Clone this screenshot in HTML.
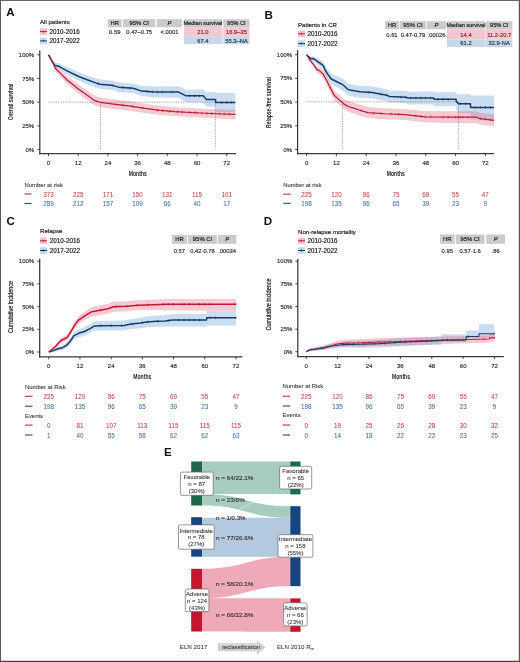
<!DOCTYPE html>
<html><head><meta charset="utf-8"><style>
html,body{margin:0;padding:0;background:#fff;}
svg{display:block;font-family:"Liberation Sans", sans-serif;filter:blur(0.35px);}
</style></head><body>
<svg width="520" height="662" viewBox="0 0 520 662">
<rect width="520" height="662" fill="#fff"/>
<text x="6.30" y="15.79" font-size="11.6" text-anchor="start" fill="#111" font-weight="bold">A</text>
<text x="40.00" y="23.90" font-size="6.1" text-anchor="start" fill="#222" stroke="#222" stroke-width="0.18">All patients</text>
<rect x="40.00" y="28.30" width="7.00" height="6.60" fill="#f6c3cc"/>
<line x1="40.00" y1="31.60" x2="47.00" y2="31.60" stroke="#b81c3a" stroke-width="1.0"/>
<line x1="43.50" y1="30.40" x2="43.50" y2="32.80" stroke="#b81c3a" stroke-width="0.7"/>
<text x="49.60" y="33.77" font-size="6.3" text-anchor="start" fill="#222" stroke="#222" stroke-width="0.18">2010-2016</text>
<rect x="40.00" y="37.60" width="7.00" height="6.60" fill="#c3d9ee"/>
<line x1="40.00" y1="40.90" x2="47.00" y2="40.90" stroke="#173f6b" stroke-width="1.0"/>
<line x1="43.50" y1="39.70" x2="43.50" y2="42.10" stroke="#173f6b" stroke-width="0.7"/>
<text x="49.60" y="43.07" font-size="6.3" text-anchor="start" fill="#222" stroke="#222" stroke-width="0.18">2017-2022</text>
<rect x="107.80" y="19.20" width="13.90" height="8.00" fill="#cbcbcb"/>
<text x="114.75" y="25.23" font-size="5.9" text-anchor="middle" fill="#222" stroke="#222" stroke-width="0.18">HR</text>
<rect x="122.90" y="19.20" width="32.60" height="8.00" fill="#cbcbcb"/>
<text x="139.20" y="25.23" font-size="5.9" text-anchor="middle" fill="#222" stroke="#222" stroke-width="0.18">95% CI</text>
<rect x="157.00" y="19.20" width="25.00" height="8.00" fill="#cbcbcb"/>
<text x="169.50" y="25.23" font-size="5.9" text-anchor="middle" fill="#222" stroke="#222" stroke-width="0.18" font-style="italic">P</text>
<text x="114.75" y="34.20" font-size="5.8" text-anchor="middle" fill="#333" stroke="#333" stroke-width="0.18">0.59</text>
<text x="139.20" y="34.20" font-size="5.8" text-anchor="middle" fill="#333" stroke="#333" stroke-width="0.18">0.47–0.75</text>
<text x="169.50" y="34.20" font-size="5.8" text-anchor="middle" fill="#333" stroke="#333" stroke-width="0.18">&lt;.0001</text>
<rect x="184.00" y="19.20" width="37.80" height="8.00" fill="#cbcbcb"/>
<rect x="223.30" y="19.20" width="26.20" height="8.00" fill="#cbcbcb"/>
<text x="202.90" y="25.13" font-size="5.6" text-anchor="middle" fill="#222" stroke="#222" stroke-width="0.18">Median survival</text>
<text x="236.50" y="25.13" font-size="5.6" text-anchor="middle" fill="#222" stroke="#222" stroke-width="0.18">95% CI</text>
<rect x="184.00" y="27.20" width="65.50" height="9.00" fill="#f3c9d0"/>
<rect x="184.00" y="36.20" width="65.50" height="8.00" fill="#c9d7e6"/>
<rect x="221.80" y="26.70" width="1.70" height="17.50" fill="#ffffff" opacity="0.5"/>
<text x="202.90" y="34.30" font-size="5.8" text-anchor="middle" fill="#9c2236" stroke="#9c2236" stroke-width="0.18">21.0</text>
<text x="236.50" y="34.30" font-size="5.8" text-anchor="middle" fill="#9c2236" stroke="#9c2236" stroke-width="0.18">16.9–35</text>
<text x="202.90" y="42.60" font-size="5.8" text-anchor="middle" fill="#233e60" stroke="#233e60" stroke-width="0.18">67.4</text>
<text x="236.50" y="42.60" font-size="5.8" text-anchor="middle" fill="#233e60" stroke="#233e60" stroke-width="0.18">55.3–NA</text>
<polygon points="48.50,54.30 52.61,60.10 55.01,63.11 58.40,63.08 67.06,67.02 78.69,72.21 87.85,75.52 95.77,78.26 99.98,79.59 111.61,80.44 118.54,82.33 133.39,83.46 141.56,86.11 154.93,86.56 178.69,86.26 186.11,89.65 203.19,89.35 206.41,92.45 215.56,91.95 215.69,92.98 235.36,92.98 235.36,111.98 215.69,111.98 215.56,106.95 206.41,106.45 203.19,102.35 186.11,102.05 178.69,97.86 154.93,97.56 141.56,96.11 133.39,93.06 118.54,91.93 111.61,89.84 99.98,88.79 95.77,87.46 87.85,84.52 78.69,80.81 67.06,74.62 58.40,69.08 55.01,68.11 52.61,64.10 48.50,55.30" fill="#4f8fcf" opacity="0.3"/>
<polygon points="48.50,54.30 52.61,60.10 55.50,65.45 61.30,70.64 67.06,76.02 72.80,80.27 78.69,84.71 84.39,88.59 90.08,92.47 94.78,95.78 100.47,97.39 111.61,98.91 130.18,101.29 145.03,103.86 160.12,105.95 174.97,107.18 199.97,108.51 216.80,109.27 235.36,109.93 235.36,119.43 216.80,118.57 199.97,117.51 174.97,116.18 160.12,114.95 145.03,113.06 130.18,110.89 111.61,108.71 100.47,107.19 94.78,105.58 90.08,102.07 84.39,97.99 78.69,93.71 72.80,88.87 67.06,84.02 61.30,77.64 55.50,71.45 52.61,64.10 48.50,55.30" fill="#e0506a" opacity="0.3"/>
<path d="M48.5 102.2 H215.3 M100.5 102.2 V150 M215.3 102.2 V148.5" stroke="#666" stroke-width="0.6" stroke-dasharray="1.2 1.2" fill="none"/>
<polyline points="48.50,54.80 52.61,62.10 55.01,65.61 58.40,66.08 67.06,70.82 78.69,76.51 87.85,80.02 95.77,82.86 99.98,84.19 111.61,85.14 118.54,87.13 133.39,88.26 141.56,91.11 154.93,92.06 178.69,92.06 186.11,95.85 203.19,95.85 206.41,99.45 215.56,99.45 215.69,102.48 235.36,102.48" fill="none" stroke="#173f6b" stroke-width="1.5" stroke-linejoin="round"/>
<line x1="98.00" y1="82.26" x2="98.00" y2="84.86" stroke="#173f6b" stroke-width="0.7"/>
<line x1="112.85" y1="84.19" x2="112.85" y2="86.79" stroke="#173f6b" stroke-width="0.7"/>
<line x1="122.75" y1="86.15" x2="122.75" y2="88.75" stroke="#173f6b" stroke-width="0.7"/>
<line x1="130.18" y1="86.72" x2="130.18" y2="89.32" stroke="#173f6b" stroke-width="0.7"/>
<line x1="147.50" y1="90.23" x2="147.50" y2="92.83" stroke="#173f6b" stroke-width="0.7"/>
<line x1="152.45" y1="90.58" x2="152.45" y2="93.18" stroke="#173f6b" stroke-width="0.7"/>
<line x1="157.40" y1="90.76" x2="157.40" y2="93.36" stroke="#173f6b" stroke-width="0.7"/>
<line x1="162.35" y1="90.76" x2="162.35" y2="93.36" stroke="#173f6b" stroke-width="0.7"/>
<line x1="172.25" y1="90.76" x2="172.25" y2="93.36" stroke="#173f6b" stroke-width="0.7"/>
<line x1="189.58" y1="94.55" x2="189.58" y2="97.15" stroke="#173f6b" stroke-width="0.7"/>
<line x1="194.53" y1="94.55" x2="194.53" y2="97.15" stroke="#173f6b" stroke-width="0.7"/>
<line x1="199.47" y1="94.55" x2="199.47" y2="97.15" stroke="#173f6b" stroke-width="0.7"/>
<line x1="221.75" y1="101.18" x2="221.75" y2="103.78" stroke="#173f6b" stroke-width="0.7"/>
<line x1="226.70" y1="101.18" x2="226.70" y2="103.78" stroke="#173f6b" stroke-width="0.7"/>
<line x1="231.65" y1="101.18" x2="231.65" y2="103.78" stroke="#173f6b" stroke-width="0.7"/>
<polyline points="48.50,54.80 52.61,62.10 55.50,68.45 61.30,74.14 67.06,80.02 72.80,84.57 78.69,89.21 84.39,93.29 90.08,97.27 94.78,100.68 100.47,102.29 111.61,103.81 130.18,106.09 145.03,108.46 160.12,110.45 174.97,111.68 199.97,113.01 216.80,113.77 235.36,114.43" fill="none" stroke="#b81c3a" stroke-width="1.2" stroke-linejoin="round"/>
<line x1="122.75" y1="103.88" x2="122.75" y2="106.48" stroke="#b81c3a" stroke-width="0.7"/>
<line x1="132.65" y1="105.18" x2="132.65" y2="107.78" stroke="#b81c3a" stroke-width="0.7"/>
<line x1="142.55" y1="106.76" x2="142.55" y2="109.36" stroke="#b81c3a" stroke-width="0.7"/>
<line x1="157.40" y1="108.79" x2="157.40" y2="111.39" stroke="#b81c3a" stroke-width="0.7"/>
<line x1="162.35" y1="109.33" x2="162.35" y2="111.93" stroke="#b81c3a" stroke-width="0.7"/>
<line x1="169.78" y1="109.95" x2="169.78" y2="112.55" stroke="#b81c3a" stroke-width="0.7"/>
<line x1="177.20" y1="110.50" x2="177.20" y2="113.10" stroke="#b81c3a" stroke-width="0.7"/>
<line x1="182.15" y1="110.76" x2="182.15" y2="113.36" stroke="#b81c3a" stroke-width="0.7"/>
<line x1="189.58" y1="111.16" x2="189.58" y2="113.76" stroke="#b81c3a" stroke-width="0.7"/>
<line x1="194.53" y1="111.42" x2="194.53" y2="114.02" stroke="#b81c3a" stroke-width="0.7"/>
<line x1="197.00" y1="111.55" x2="197.00" y2="114.15" stroke="#b81c3a" stroke-width="0.7"/>
<line x1="201.95" y1="111.80" x2="201.95" y2="114.40" stroke="#b81c3a" stroke-width="0.7"/>
<line x1="206.90" y1="112.02" x2="206.90" y2="114.62" stroke="#b81c3a" stroke-width="0.7"/>
<line x1="211.85" y1="112.24" x2="211.85" y2="114.84" stroke="#b81c3a" stroke-width="0.7"/>
<line x1="219.28" y1="112.55" x2="219.28" y2="115.15" stroke="#b81c3a" stroke-width="0.7"/>
<line x1="224.22" y1="112.73" x2="224.22" y2="115.33" stroke="#b81c3a" stroke-width="0.7"/>
<line x1="229.18" y1="112.91" x2="229.18" y2="115.51" stroke="#b81c3a" stroke-width="0.7"/>
<line x1="39.80" y1="50.40" x2="39.80" y2="154.20" stroke="#3a3a3a" stroke-width="1.25"/>
<line x1="39.20" y1="153.60" x2="236.00" y2="153.60" stroke="#3a3a3a" stroke-width="1.25"/>
<line x1="37.30" y1="54.80" x2="39.80" y2="54.80" stroke="#222" stroke-width="0.8"/>
<text x="34.20" y="56.86" font-size="6.0" text-anchor="end" fill="#333" stroke="#333" stroke-width="0.18">100%</text>
<line x1="37.30" y1="78.50" x2="39.80" y2="78.50" stroke="#222" stroke-width="0.8"/>
<text x="34.20" y="80.56" font-size="6.0" text-anchor="end" fill="#333" stroke="#333" stroke-width="0.18">75%</text>
<line x1="37.30" y1="102.20" x2="39.80" y2="102.20" stroke="#222" stroke-width="0.8"/>
<text x="34.20" y="104.26" font-size="6.0" text-anchor="end" fill="#333" stroke="#333" stroke-width="0.18">50%</text>
<line x1="37.30" y1="125.90" x2="39.80" y2="125.90" stroke="#222" stroke-width="0.8"/>
<text x="34.20" y="127.96" font-size="6.0" text-anchor="end" fill="#333" stroke="#333" stroke-width="0.18">25%</text>
<line x1="37.30" y1="149.60" x2="39.80" y2="149.60" stroke="#222" stroke-width="0.8"/>
<text x="34.20" y="151.66" font-size="6.0" text-anchor="end" fill="#333" stroke="#333" stroke-width="0.18">0%</text>
<line x1="48.50" y1="153.60" x2="48.50" y2="156.10" stroke="#222" stroke-width="0.8"/>
<text x="48.50" y="165.06" font-size="6.0" text-anchor="middle" fill="#333" stroke="#333" stroke-width="0.18">0</text>
<line x1="78.20" y1="153.60" x2="78.20" y2="156.10" stroke="#222" stroke-width="0.8"/>
<text x="78.20" y="165.06" font-size="6.0" text-anchor="middle" fill="#333" stroke="#333" stroke-width="0.18">12</text>
<line x1="107.90" y1="153.60" x2="107.90" y2="156.10" stroke="#222" stroke-width="0.8"/>
<text x="107.90" y="165.06" font-size="6.0" text-anchor="middle" fill="#333" stroke="#333" stroke-width="0.18">24</text>
<line x1="137.60" y1="153.60" x2="137.60" y2="156.10" stroke="#222" stroke-width="0.8"/>
<text x="137.60" y="165.06" font-size="6.0" text-anchor="middle" fill="#333" stroke="#333" stroke-width="0.18">36</text>
<line x1="167.30" y1="153.60" x2="167.30" y2="156.10" stroke="#222" stroke-width="0.8"/>
<text x="167.30" y="165.06" font-size="6.0" text-anchor="middle" fill="#333" stroke="#333" stroke-width="0.18">48</text>
<line x1="197.00" y1="153.60" x2="197.00" y2="156.10" stroke="#222" stroke-width="0.8"/>
<text x="197.00" y="165.06" font-size="6.0" text-anchor="middle" fill="#333" stroke="#333" stroke-width="0.18">60</text>
<line x1="226.70" y1="153.60" x2="226.70" y2="156.10" stroke="#222" stroke-width="0.8"/>
<text x="226.70" y="165.06" font-size="6.0" text-anchor="middle" fill="#333" stroke="#333" stroke-width="0.18">72</text>
<text x="137.80" y="176.05" font-size="7.4" text-anchor="middle" fill="#222" font-weight="bold" textLength="18" lengthAdjust="spacingAndGlyphs">Months</text>
<text transform="translate(13.1,102) rotate(-90)" font-size="7.2" font-weight="bold" text-anchor="middle" fill="#222" textLength="36.6" lengthAdjust="spacingAndGlyphs">Overall survival</text>
<text x="24.50" y="186.73" font-size="5.9" text-anchor="start" fill="#333" stroke="#333" stroke-width="0.08">Number at risk</text>
<line x1="24.50" y1="194.00" x2="31.50" y2="194.00" stroke="#b81c3a" stroke-width="1.0"/>
<text x="48.50" y="196.57" font-size="6.3" text-anchor="middle" fill="#d0404f" stroke="#d0404f" stroke-width="0.05">373</text>
<text x="78.20" y="196.57" font-size="6.3" text-anchor="middle" fill="#d0404f" stroke="#d0404f" stroke-width="0.05">225</text>
<text x="107.90" y="196.57" font-size="6.3" text-anchor="middle" fill="#d0404f" stroke="#d0404f" stroke-width="0.05">171</text>
<text x="137.60" y="196.57" font-size="6.3" text-anchor="middle" fill="#d0404f" stroke="#d0404f" stroke-width="0.05">150</text>
<text x="167.30" y="196.57" font-size="6.3" text-anchor="middle" fill="#d0404f" stroke="#d0404f" stroke-width="0.05">131</text>
<text x="197.00" y="196.57" font-size="6.3" text-anchor="middle" fill="#d0404f" stroke="#d0404f" stroke-width="0.05">115</text>
<text x="226.70" y="196.57" font-size="6.3" text-anchor="middle" fill="#d0404f" stroke="#d0404f" stroke-width="0.05">101</text>
<line x1="24.50" y1="203.40" x2="31.50" y2="203.40" stroke="#173f6b" stroke-width="1.0"/>
<text x="48.50" y="205.97" font-size="6.3" text-anchor="middle" fill="#3f72a6" stroke="#3f72a6" stroke-width="0.05">289</text>
<text x="78.20" y="205.97" font-size="6.3" text-anchor="middle" fill="#3f72a6" stroke="#3f72a6" stroke-width="0.05">212</text>
<text x="107.90" y="205.97" font-size="6.3" text-anchor="middle" fill="#3f72a6" stroke="#3f72a6" stroke-width="0.05">157</text>
<text x="137.60" y="205.97" font-size="6.3" text-anchor="middle" fill="#3f72a6" stroke="#3f72a6" stroke-width="0.05">109</text>
<text x="167.30" y="205.97" font-size="6.3" text-anchor="middle" fill="#3f72a6" stroke="#3f72a6" stroke-width="0.05">66</text>
<text x="197.00" y="205.97" font-size="6.3" text-anchor="middle" fill="#3f72a6" stroke="#3f72a6" stroke-width="0.05">40</text>
<text x="226.70" y="205.97" font-size="6.3" text-anchor="middle" fill="#3f72a6" stroke="#3f72a6" stroke-width="0.05">17</text>
<text x="264.40" y="18.79" font-size="11.6" text-anchor="start" fill="#111" font-weight="bold">B</text>
<text x="298.00" y="26.60" font-size="6.1" text-anchor="start" fill="#222" stroke="#222" stroke-width="0.18">Patients in CR</text>
<rect x="298.00" y="30.50" width="7.00" height="6.60" fill="#f6c3cc"/>
<line x1="298.00" y1="33.80" x2="305.00" y2="33.80" stroke="#b81c3a" stroke-width="1.0"/>
<line x1="301.50" y1="32.60" x2="301.50" y2="35.00" stroke="#b81c3a" stroke-width="0.7"/>
<text x="307.50" y="35.97" font-size="6.3" text-anchor="start" fill="#222" stroke="#222" stroke-width="0.18">2010-2016</text>
<rect x="298.00" y="40.30" width="7.00" height="6.60" fill="#c3d9ee"/>
<line x1="298.00" y1="43.60" x2="305.00" y2="43.60" stroke="#173f6b" stroke-width="1.0"/>
<line x1="301.50" y1="42.40" x2="301.50" y2="44.80" stroke="#173f6b" stroke-width="0.7"/>
<text x="307.50" y="45.77" font-size="6.3" text-anchor="start" fill="#222" stroke="#222" stroke-width="0.18">2017-2022</text>
<rect x="385.00" y="21.20" width="13.90" height="8.00" fill="#cbcbcb"/>
<text x="391.95" y="27.23" font-size="5.9" text-anchor="middle" fill="#222" stroke="#222" stroke-width="0.18">HR</text>
<rect x="399.70" y="21.20" width="26.50" height="8.00" fill="#cbcbcb"/>
<text x="412.95" y="27.23" font-size="5.9" text-anchor="middle" fill="#222" stroke="#222" stroke-width="0.18">95% CI</text>
<rect x="427.00" y="21.20" width="19.00" height="8.00" fill="#cbcbcb"/>
<text x="436.50" y="27.23" font-size="5.9" text-anchor="middle" fill="#222" stroke="#222" stroke-width="0.18" font-style="italic">P</text>
<text x="391.95" y="37.10" font-size="5.8" text-anchor="middle" fill="#333" stroke="#333" stroke-width="0.18">0.61</text>
<text x="412.95" y="37.10" font-size="5.8" text-anchor="middle" fill="#333" stroke="#333" stroke-width="0.18">0.47-0.79</text>
<text x="436.50" y="37.10" font-size="5.8" text-anchor="middle" fill="#333" stroke="#333" stroke-width="0.18">.00026</text>
<rect x="447.00" y="21.20" width="38.00" height="8.00" fill="#cbcbcb"/>
<rect x="486.00" y="21.20" width="26.30" height="8.00" fill="#cbcbcb"/>
<text x="466.00" y="27.13" font-size="5.6" text-anchor="middle" fill="#222" stroke="#222" stroke-width="0.18">Median survival</text>
<text x="499.20" y="27.13" font-size="5.6" text-anchor="middle" fill="#222" stroke="#222" stroke-width="0.18">95% CI</text>
<rect x="447.00" y="29.20" width="65.30" height="10.20" fill="#f3c9d0"/>
<rect x="447.00" y="39.40" width="65.30" height="7.70" fill="#c9d7e6"/>
<rect x="485.00" y="29.20" width="1.00" height="17.90" fill="#ffffff" opacity="0.5"/>
<text x="466.00" y="37.10" font-size="5.8" text-anchor="middle" fill="#9c2236" stroke="#9c2236" stroke-width="0.18">14.4</text>
<text x="499.20" y="37.10" font-size="5.8" text-anchor="middle" fill="#9c2236" stroke="#9c2236" stroke-width="0.18">11.2-20.7</text>
<text x="466.00" y="45.40" font-size="5.8" text-anchor="middle" fill="#233e60" stroke="#233e60" stroke-width="0.18">61.2</text>
<text x="499.20" y="45.40" font-size="5.8" text-anchor="middle" fill="#233e60" stroke="#233e60" stroke-width="0.18">32.9-NA</text>
<polygon points="306.60,54.20 310.70,56.78 313.50,56.09 319.26,59.16 323.24,61.60 325.22,65.75 328.20,69.80 330.93,73.48 336.89,76.12 342.60,78.76 348.31,83.78 354.27,84.82 359.98,85.77 372.15,86.53 386.80,89.18 389.53,90.51 405.92,90.97 408.65,91.82 425.04,91.52 433.73,91.52 433.85,92.26 456.08,92.26 456.20,93.34 458.31,94.31 470.48,94.31 470.60,95.41 494.07,95.41 494.07,119.41 470.60,119.41 470.48,113.31 458.31,113.31 456.20,109.34 456.08,106.26 433.85,106.26 433.73,104.52 425.04,104.52 408.65,104.42 405.92,103.37 389.53,102.51 386.80,101.18 372.15,98.53 359.98,97.77 354.27,96.82 348.31,95.78 342.60,90.36 336.89,87.32 330.93,84.08 328.20,79.80 325.22,74.75 323.24,69.60 319.26,66.16 313.50,61.09 310.70,60.78 306.60,55.20" fill="#4f8fcf" opacity="0.3"/>
<polygon points="306.60,54.20 310.08,58.39 313.50,61.66 317.03,66.28 319.76,67.22 323.24,70.23 325.72,74.48 328.70,79.96 331.68,85.64 333.91,89.99 337.64,93.40 341.11,96.14 343.35,98.42 348.07,101.16 353.78,102.77 359.98,104.75 367.93,107.12 385.06,108.26 404.93,109.11 425.04,111.09 458.06,111.37 476.93,111.17 479.91,112.69 494.07,114.40 494.07,126.40 479.91,124.69 476.93,123.17 458.06,122.97 425.04,122.49 404.93,120.11 385.06,119.26 367.93,118.12 359.98,115.75 353.78,113.57 348.07,111.76 343.35,108.82 341.11,106.54 337.64,103.40 333.91,99.99 331.68,95.24 328.70,89.16 325.72,83.08 323.24,78.23 319.76,74.42 317.03,72.88 313.50,67.26 310.08,62.39 306.60,55.20" fill="#e0506a" opacity="0.3"/>
<path d="M306.6 101.8 H458.6 M342.4 101.8 V150 M458.6 101.8 V150" stroke="#666" stroke-width="0.6" stroke-dasharray="1.2 1.2" fill="none"/>
<polyline points="306.60,54.70 310.70,58.78 313.50,58.59 319.26,62.66 323.24,65.60 325.22,70.25 328.20,74.80 330.93,78.78 336.89,81.72 342.60,84.56 348.31,89.78 354.27,90.82 359.98,91.77 372.15,92.53 386.80,95.18 389.53,96.51 405.92,97.17 408.65,98.12 425.04,98.02 433.73,98.02 433.85,99.26 456.08,99.26 456.20,101.34 458.31,103.81 470.48,103.81 470.60,107.41 494.07,107.41" fill="none" stroke="#173f6b" stroke-width="1.5" stroke-linejoin="round"/>
<line x1="368.68" y1="91.01" x2="368.68" y2="93.61" stroke="#173f6b" stroke-width="0.7"/>
<line x1="381.09" y1="92.84" x2="381.09" y2="95.44" stroke="#173f6b" stroke-width="0.7"/>
<line x1="386.06" y1="93.74" x2="386.06" y2="96.34" stroke="#173f6b" stroke-width="0.7"/>
<line x1="400.95" y1="95.67" x2="400.95" y2="98.27" stroke="#173f6b" stroke-width="0.7"/>
<line x1="405.92" y1="95.87" x2="405.92" y2="98.47" stroke="#173f6b" stroke-width="0.7"/>
<line x1="410.89" y1="96.81" x2="410.89" y2="99.41" stroke="#173f6b" stroke-width="0.7"/>
<line x1="415.85" y1="96.78" x2="415.85" y2="99.38" stroke="#173f6b" stroke-width="0.7"/>
<line x1="420.82" y1="96.75" x2="420.82" y2="99.35" stroke="#173f6b" stroke-width="0.7"/>
<line x1="425.78" y1="96.72" x2="425.78" y2="99.32" stroke="#173f6b" stroke-width="0.7"/>
<line x1="430.75" y1="96.72" x2="430.75" y2="99.32" stroke="#173f6b" stroke-width="0.7"/>
<line x1="438.20" y1="97.96" x2="438.20" y2="100.56" stroke="#173f6b" stroke-width="0.7"/>
<line x1="443.17" y1="97.96" x2="443.17" y2="100.56" stroke="#173f6b" stroke-width="0.7"/>
<line x1="448.13" y1="97.96" x2="448.13" y2="100.56" stroke="#173f6b" stroke-width="0.7"/>
<line x1="460.55" y1="102.51" x2="460.55" y2="105.11" stroke="#173f6b" stroke-width="0.7"/>
<line x1="465.51" y1="102.51" x2="465.51" y2="105.11" stroke="#173f6b" stroke-width="0.7"/>
<line x1="475.44" y1="106.11" x2="475.44" y2="108.71" stroke="#173f6b" stroke-width="0.7"/>
<line x1="480.41" y1="106.11" x2="480.41" y2="108.71" stroke="#173f6b" stroke-width="0.7"/>
<line x1="485.38" y1="106.11" x2="485.38" y2="108.71" stroke="#173f6b" stroke-width="0.7"/>
<line x1="490.34" y1="106.11" x2="490.34" y2="108.71" stroke="#173f6b" stroke-width="0.7"/>
<polyline points="306.60,54.70 310.08,60.39 313.50,64.46 317.03,69.58 319.76,70.82 323.24,74.23 325.72,78.78 328.70,84.56 331.68,90.44 333.91,94.99 337.64,98.40 341.11,101.34 343.35,103.62 348.07,106.46 353.78,108.17 359.98,110.25 367.93,112.62 385.06,113.76 404.93,114.61 425.04,116.79 458.06,117.17 476.93,117.17 479.91,118.69 494.07,120.40" fill="none" stroke="#b81c3a" stroke-width="1.2" stroke-linejoin="round"/>
<line x1="361.23" y1="109.32" x2="361.23" y2="111.92" stroke="#b81c3a" stroke-width="0.7"/>
<line x1="373.64" y1="111.70" x2="373.64" y2="114.30" stroke="#b81c3a" stroke-width="0.7"/>
<line x1="381.09" y1="112.20" x2="381.09" y2="114.80" stroke="#b81c3a" stroke-width="0.7"/>
<line x1="391.02" y1="112.72" x2="391.02" y2="115.32" stroke="#b81c3a" stroke-width="0.7"/>
<line x1="398.47" y1="113.04" x2="398.47" y2="115.64" stroke="#b81c3a" stroke-width="0.7"/>
<line x1="415.85" y1="114.50" x2="415.85" y2="117.10" stroke="#b81c3a" stroke-width="0.7"/>
<line x1="420.82" y1="115.04" x2="420.82" y2="117.64" stroke="#b81c3a" stroke-width="0.7"/>
<line x1="425.78" y1="115.50" x2="425.78" y2="118.10" stroke="#b81c3a" stroke-width="0.7"/>
<line x1="430.75" y1="115.56" x2="430.75" y2="118.16" stroke="#b81c3a" stroke-width="0.7"/>
<line x1="443.17" y1="115.70" x2="443.17" y2="118.30" stroke="#b81c3a" stroke-width="0.7"/>
<line x1="448.13" y1="115.76" x2="448.13" y2="118.36" stroke="#b81c3a" stroke-width="0.7"/>
<line x1="455.58" y1="115.84" x2="455.58" y2="118.44" stroke="#b81c3a" stroke-width="0.7"/>
<line x1="458.06" y1="115.87" x2="458.06" y2="118.47" stroke="#b81c3a" stroke-width="0.7"/>
<line x1="460.55" y1="115.87" x2="460.55" y2="118.47" stroke="#b81c3a" stroke-width="0.7"/>
<line x1="463.03" y1="115.87" x2="463.03" y2="118.47" stroke="#b81c3a" stroke-width="0.7"/>
<line x1="468.00" y1="115.87" x2="468.00" y2="118.47" stroke="#b81c3a" stroke-width="0.7"/>
<line x1="480.41" y1="117.45" x2="480.41" y2="120.05" stroke="#b81c3a" stroke-width="0.7"/>
<line x1="485.38" y1="118.05" x2="485.38" y2="120.65" stroke="#b81c3a" stroke-width="0.7"/>
<line x1="490.34" y1="118.65" x2="490.34" y2="121.25" stroke="#b81c3a" stroke-width="0.7"/>
<line x1="297.60" y1="50.20" x2="297.60" y2="154.30" stroke="#3a3a3a" stroke-width="1.25"/>
<line x1="297.00" y1="153.70" x2="494.00" y2="153.70" stroke="#3a3a3a" stroke-width="1.25"/>
<line x1="295.10" y1="54.70" x2="297.60" y2="54.70" stroke="#222" stroke-width="0.8"/>
<text x="292.20" y="56.76" font-size="6.0" text-anchor="end" fill="#333" stroke="#333" stroke-width="0.18">100%</text>
<line x1="295.10" y1="78.40" x2="297.60" y2="78.40" stroke="#222" stroke-width="0.8"/>
<text x="292.20" y="80.46" font-size="6.0" text-anchor="end" fill="#333" stroke="#333" stroke-width="0.18">75%</text>
<line x1="295.10" y1="102.10" x2="297.60" y2="102.10" stroke="#222" stroke-width="0.8"/>
<text x="292.20" y="104.16" font-size="6.0" text-anchor="end" fill="#333" stroke="#333" stroke-width="0.18">50%</text>
<line x1="295.10" y1="125.80" x2="297.60" y2="125.80" stroke="#222" stroke-width="0.8"/>
<text x="292.20" y="127.86" font-size="6.0" text-anchor="end" fill="#333" stroke="#333" stroke-width="0.18">25%</text>
<line x1="295.10" y1="149.50" x2="297.60" y2="149.50" stroke="#222" stroke-width="0.8"/>
<text x="292.20" y="151.56" font-size="6.0" text-anchor="end" fill="#333" stroke="#333" stroke-width="0.18">0%</text>
<line x1="306.60" y1="153.70" x2="306.60" y2="156.20" stroke="#222" stroke-width="0.8"/>
<text x="306.60" y="165.16" font-size="6.0" text-anchor="middle" fill="#333" stroke="#333" stroke-width="0.18">0</text>
<line x1="336.40" y1="153.70" x2="336.40" y2="156.20" stroke="#222" stroke-width="0.8"/>
<text x="336.40" y="165.16" font-size="6.0" text-anchor="middle" fill="#333" stroke="#333" stroke-width="0.18">12</text>
<line x1="366.19" y1="153.70" x2="366.19" y2="156.20" stroke="#222" stroke-width="0.8"/>
<text x="366.19" y="165.16" font-size="6.0" text-anchor="middle" fill="#333" stroke="#333" stroke-width="0.18">24</text>
<line x1="395.99" y1="153.70" x2="395.99" y2="156.20" stroke="#222" stroke-width="0.8"/>
<text x="395.99" y="165.16" font-size="6.0" text-anchor="middle" fill="#333" stroke="#333" stroke-width="0.18">36</text>
<line x1="425.78" y1="153.70" x2="425.78" y2="156.20" stroke="#222" stroke-width="0.8"/>
<text x="425.78" y="165.16" font-size="6.0" text-anchor="middle" fill="#333" stroke="#333" stroke-width="0.18">48</text>
<line x1="455.58" y1="153.70" x2="455.58" y2="156.20" stroke="#222" stroke-width="0.8"/>
<text x="455.58" y="165.16" font-size="6.0" text-anchor="middle" fill="#333" stroke="#333" stroke-width="0.18">60</text>
<line x1="485.38" y1="153.70" x2="485.38" y2="156.20" stroke="#222" stroke-width="0.8"/>
<text x="485.38" y="165.16" font-size="6.0" text-anchor="middle" fill="#333" stroke="#333" stroke-width="0.18">72</text>
<text x="395.80" y="175.85" font-size="7.4" text-anchor="middle" fill="#222" font-weight="bold" textLength="18" lengthAdjust="spacingAndGlyphs">Months</text>
<text transform="translate(271.3,102.5) rotate(-90)" font-size="7.2" font-weight="bold" text-anchor="middle" fill="#222" textLength="51" lengthAdjust="spacingAndGlyphs">Relapse-free survival</text>
<text x="283.20" y="186.63" font-size="5.9" text-anchor="start" fill="#333" stroke="#333" stroke-width="0.08">Number at risk</text>
<line x1="283.20" y1="194.20" x2="290.80" y2="194.20" stroke="#b81c3a" stroke-width="1.0"/>
<text x="306.60" y="196.77" font-size="6.3" text-anchor="middle" fill="#d0404f" stroke="#d0404f" stroke-width="0.05">225</text>
<text x="336.40" y="196.77" font-size="6.3" text-anchor="middle" fill="#d0404f" stroke="#d0404f" stroke-width="0.05">120</text>
<text x="366.19" y="196.77" font-size="6.3" text-anchor="middle" fill="#d0404f" stroke="#d0404f" stroke-width="0.05">86</text>
<text x="395.99" y="196.77" font-size="6.3" text-anchor="middle" fill="#d0404f" stroke="#d0404f" stroke-width="0.05">75</text>
<text x="425.78" y="196.77" font-size="6.3" text-anchor="middle" fill="#d0404f" stroke="#d0404f" stroke-width="0.05">69</text>
<text x="455.58" y="196.77" font-size="6.3" text-anchor="middle" fill="#d0404f" stroke="#d0404f" stroke-width="0.05">55</text>
<text x="485.38" y="196.77" font-size="6.3" text-anchor="middle" fill="#d0404f" stroke="#d0404f" stroke-width="0.05">47</text>
<line x1="283.20" y1="203.30" x2="290.80" y2="203.30" stroke="#173f6b" stroke-width="1.0"/>
<text x="306.60" y="205.87" font-size="6.3" text-anchor="middle" fill="#3f72a6" stroke="#3f72a6" stroke-width="0.05">198</text>
<text x="336.40" y="205.87" font-size="6.3" text-anchor="middle" fill="#3f72a6" stroke="#3f72a6" stroke-width="0.05">135</text>
<text x="366.19" y="205.87" font-size="6.3" text-anchor="middle" fill="#3f72a6" stroke="#3f72a6" stroke-width="0.05">96</text>
<text x="395.99" y="205.87" font-size="6.3" text-anchor="middle" fill="#3f72a6" stroke="#3f72a6" stroke-width="0.05">65</text>
<text x="425.78" y="205.87" font-size="6.3" text-anchor="middle" fill="#3f72a6" stroke="#3f72a6" stroke-width="0.05">39</text>
<text x="455.58" y="205.87" font-size="6.3" text-anchor="middle" fill="#3f72a6" stroke="#3f72a6" stroke-width="0.05">23</text>
<text x="485.38" y="205.87" font-size="6.3" text-anchor="middle" fill="#3f72a6" stroke="#3f72a6" stroke-width="0.05">9</text>
<text x="6.60" y="225.19" font-size="11.6" text-anchor="start" fill="#111" font-weight="bold">C</text>
<text x="40.00" y="233.40" font-size="6.1" text-anchor="start" fill="#222" stroke="#222" stroke-width="0.18">Relapse</text>
<rect x="40.00" y="237.50" width="7.00" height="6.60" fill="#f6c3cc"/>
<line x1="40.00" y1="240.80" x2="47.00" y2="240.80" stroke="#b81c3a" stroke-width="1.0"/>
<line x1="43.50" y1="239.60" x2="43.50" y2="242.00" stroke="#b81c3a" stroke-width="0.7"/>
<text x="49.80" y="242.97" font-size="6.3" text-anchor="start" fill="#222" stroke="#222" stroke-width="0.18">2010-2016</text>
<rect x="40.00" y="247.20" width="7.00" height="6.60" fill="#c3d9ee"/>
<line x1="40.00" y1="250.50" x2="47.00" y2="250.50" stroke="#173f6b" stroke-width="1.0"/>
<line x1="43.50" y1="249.30" x2="43.50" y2="251.70" stroke="#173f6b" stroke-width="0.7"/>
<text x="49.80" y="252.67" font-size="6.3" text-anchor="start" fill="#222" stroke="#222" stroke-width="0.18">2017-2022</text>
<rect x="171.80" y="235.00" width="15.20" height="8.80" fill="#cbcbcb"/>
<text x="179.40" y="241.43" font-size="5.9" text-anchor="middle" fill="#222" stroke="#222" stroke-width="0.18">HR</text>
<rect x="188.00" y="235.00" width="29.00" height="8.80" fill="#cbcbcb"/>
<text x="202.50" y="241.43" font-size="5.9" text-anchor="middle" fill="#222" stroke="#222" stroke-width="0.18">95% CI</text>
<rect x="218.00" y="235.00" width="18.30" height="8.80" fill="#cbcbcb"/>
<text x="227.15" y="241.43" font-size="5.9" text-anchor="middle" fill="#222" stroke="#222" stroke-width="0.18" font-style="italic">P</text>
<text x="179.40" y="252.50" font-size="5.8" text-anchor="middle" fill="#333" stroke="#333" stroke-width="0.18">0.57</text>
<text x="202.50" y="252.50" font-size="5.8" text-anchor="middle" fill="#333" stroke="#333" stroke-width="0.18">0.42-0.78</text>
<text x="227.15" y="252.50" font-size="5.8" text-anchor="middle" fill="#333" stroke="#333" stroke-width="0.18">.00034</text>
<polygon points="48.75,351.50 53.17,349.14 57.85,346.82 62.53,345.23 67.21,341.83 70.59,337.44 73.97,332.06 78.65,329.30 84.37,327.28 90.09,324.17 93.73,321.70 98.15,320.96 124.15,320.40 129.61,319.31 140.53,317.83 147.03,316.55 156.39,315.62 164.97,315.24 172.77,314.04 206.57,314.04 206.70,310.68 235.95,310.68 235.95,325.38 206.70,325.38 206.57,326.54 172.77,326.54 164.97,326.84 156.39,326.82 147.03,327.35 140.53,328.23 129.61,329.31 124.15,330.40 98.15,330.56 93.73,330.90 90.09,332.97 84.37,335.68 78.65,337.30 73.97,339.26 70.59,344.04 67.21,347.83 62.53,350.23 57.85,350.82 53.17,352.14 48.75,352.50" fill="#4f8fcf" opacity="0.3"/>
<polygon points="48.75,351.50 55.51,344.66 60.71,338.24 64.09,336.22 67.21,334.38 71.63,326.89 75.01,320.78 78.65,316.04 84.37,311.74 91.39,307.27 97.11,305.98 99.97,305.23 108.03,303.78 113.49,301.78 127.01,301.24 137.67,300.24 153.79,299.58 167.05,299.03 235.95,299.03 235.95,310.83 167.05,310.33 153.79,310.28 137.67,310.24 127.01,311.24 113.49,311.78 108.03,313.78 99.97,315.23 97.11,315.58 91.39,316.47 84.37,320.34 78.65,324.04 75.01,328.38 71.63,333.89 67.21,340.38 64.09,341.82 60.71,343.24 55.51,348.26 48.75,352.50" fill="#e0506a" opacity="0.3"/>
<polyline points="48.75,352.00 53.17,350.64 57.85,348.82 62.53,347.73 67.21,344.83 70.59,340.74 73.97,335.66 78.65,333.30 84.37,331.48 90.09,328.57 93.73,326.30 98.15,325.76 124.15,325.40 129.61,324.31 140.53,323.03 147.03,321.95 156.39,321.22 164.97,321.04 172.77,320.04 206.57,320.04 206.70,317.68 235.95,317.68" fill="none" stroke="#173f6b" stroke-width="1.5" stroke-linejoin="round"/>
<line x1="100.75" y1="324.42" x2="100.75" y2="327.02" stroke="#173f6b" stroke-width="0.7"/>
<line x1="111.15" y1="324.28" x2="111.15" y2="326.88" stroke="#173f6b" stroke-width="0.7"/>
<line x1="121.55" y1="324.13" x2="121.55" y2="326.73" stroke="#173f6b" stroke-width="0.7"/>
<line x1="131.95" y1="322.73" x2="131.95" y2="325.33" stroke="#173f6b" stroke-width="0.7"/>
<line x1="142.35" y1="321.43" x2="142.35" y2="324.03" stroke="#173f6b" stroke-width="0.7"/>
<line x1="147.55" y1="320.60" x2="147.55" y2="323.20" stroke="#173f6b" stroke-width="0.7"/>
<line x1="157.95" y1="319.89" x2="157.95" y2="322.49" stroke="#173f6b" stroke-width="0.7"/>
<line x1="168.35" y1="319.30" x2="168.35" y2="321.90" stroke="#173f6b" stroke-width="0.7"/>
<line x1="178.75" y1="318.74" x2="178.75" y2="321.34" stroke="#173f6b" stroke-width="0.7"/>
<line x1="183.95" y1="318.74" x2="183.95" y2="321.34" stroke="#173f6b" stroke-width="0.7"/>
<line x1="189.15" y1="318.74" x2="189.15" y2="321.34" stroke="#173f6b" stroke-width="0.7"/>
<line x1="194.35" y1="318.74" x2="194.35" y2="321.34" stroke="#173f6b" stroke-width="0.7"/>
<line x1="199.55" y1="318.74" x2="199.55" y2="321.34" stroke="#173f6b" stroke-width="0.7"/>
<line x1="209.95" y1="316.38" x2="209.95" y2="318.98" stroke="#173f6b" stroke-width="0.7"/>
<line x1="215.15" y1="316.38" x2="215.15" y2="318.98" stroke="#173f6b" stroke-width="0.7"/>
<line x1="235.95" y1="316.38" x2="235.95" y2="318.98" stroke="#173f6b" stroke-width="0.7"/>
<polyline points="48.75,352.00 55.51,346.46 60.71,340.74 64.09,339.02 67.21,337.38 71.63,330.39 75.01,324.58 78.65,320.04 84.37,316.04 91.39,311.87 97.11,310.78 99.97,310.23 108.03,308.78 113.49,306.78 127.01,306.24 137.67,305.24 153.79,304.78 167.05,304.33 235.95,304.33" fill="none" stroke="#c8143a" stroke-width="1.5" stroke-linejoin="round"/>
<line x1="100.75" y1="308.79" x2="100.75" y2="311.39" stroke="#c8143a" stroke-width="0.7"/>
<line x1="116.35" y1="305.37" x2="116.35" y2="307.97" stroke="#c8143a" stroke-width="0.7"/>
<line x1="126.75" y1="304.95" x2="126.75" y2="307.55" stroke="#c8143a" stroke-width="0.7"/>
<line x1="137.15" y1="303.99" x2="137.15" y2="306.59" stroke="#c8143a" stroke-width="0.7"/>
<line x1="147.55" y1="303.66" x2="147.55" y2="306.26" stroke="#c8143a" stroke-width="0.7"/>
<line x1="163.15" y1="303.16" x2="163.15" y2="305.76" stroke="#c8143a" stroke-width="0.7"/>
<line x1="168.35" y1="303.03" x2="168.35" y2="305.63" stroke="#c8143a" stroke-width="0.7"/>
<line x1="173.55" y1="303.03" x2="173.55" y2="305.63" stroke="#c8143a" stroke-width="0.7"/>
<line x1="183.95" y1="303.03" x2="183.95" y2="305.63" stroke="#c8143a" stroke-width="0.7"/>
<line x1="189.15" y1="303.03" x2="189.15" y2="305.63" stroke="#c8143a" stroke-width="0.7"/>
<line x1="199.55" y1="303.03" x2="199.55" y2="305.63" stroke="#c8143a" stroke-width="0.7"/>
<line x1="204.75" y1="303.03" x2="204.75" y2="305.63" stroke="#c8143a" stroke-width="0.7"/>
<line x1="209.95" y1="303.03" x2="209.95" y2="305.63" stroke="#c8143a" stroke-width="0.7"/>
<line x1="235.95" y1="303.03" x2="235.95" y2="305.63" stroke="#c8143a" stroke-width="0.7"/>
<line x1="39.70" y1="258.70" x2="39.70" y2="357.50" stroke="#3a3a3a" stroke-width="1.25"/>
<line x1="39.10" y1="356.90" x2="242.50" y2="356.90" stroke="#3a3a3a" stroke-width="1.25"/>
<line x1="37.20" y1="261.20" x2="39.70" y2="261.20" stroke="#222" stroke-width="0.8"/>
<text x="34.20" y="263.26" font-size="6.0" text-anchor="end" fill="#333" stroke="#333" stroke-width="0.18">100%</text>
<line x1="37.20" y1="283.90" x2="39.70" y2="283.90" stroke="#222" stroke-width="0.8"/>
<text x="34.20" y="285.96" font-size="6.0" text-anchor="end" fill="#333" stroke="#333" stroke-width="0.18">75%</text>
<line x1="37.20" y1="306.60" x2="39.70" y2="306.60" stroke="#222" stroke-width="0.8"/>
<text x="34.20" y="308.66" font-size="6.0" text-anchor="end" fill="#333" stroke="#333" stroke-width="0.18">50%</text>
<line x1="37.20" y1="329.30" x2="39.70" y2="329.30" stroke="#222" stroke-width="0.8"/>
<text x="34.20" y="331.36" font-size="6.0" text-anchor="end" fill="#333" stroke="#333" stroke-width="0.18">25%</text>
<line x1="37.20" y1="352.00" x2="39.70" y2="352.00" stroke="#222" stroke-width="0.8"/>
<text x="34.20" y="354.06" font-size="6.0" text-anchor="end" fill="#333" stroke="#333" stroke-width="0.18">0%</text>
<line x1="48.75" y1="356.90" x2="48.75" y2="359.40" stroke="#222" stroke-width="0.8"/>
<text x="48.75" y="367.56" font-size="6.0" text-anchor="middle" fill="#333" stroke="#333" stroke-width="0.18">0</text>
<line x1="79.95" y1="356.90" x2="79.95" y2="359.40" stroke="#222" stroke-width="0.8"/>
<text x="79.95" y="367.56" font-size="6.0" text-anchor="middle" fill="#333" stroke="#333" stroke-width="0.18">12</text>
<line x1="111.15" y1="356.90" x2="111.15" y2="359.40" stroke="#222" stroke-width="0.8"/>
<text x="111.15" y="367.56" font-size="6.0" text-anchor="middle" fill="#333" stroke="#333" stroke-width="0.18">24</text>
<line x1="142.35" y1="356.90" x2="142.35" y2="359.40" stroke="#222" stroke-width="0.8"/>
<text x="142.35" y="367.56" font-size="6.0" text-anchor="middle" fill="#333" stroke="#333" stroke-width="0.18">36</text>
<line x1="173.55" y1="356.90" x2="173.55" y2="359.40" stroke="#222" stroke-width="0.8"/>
<text x="173.55" y="367.56" font-size="6.0" text-anchor="middle" fill="#333" stroke="#333" stroke-width="0.18">48</text>
<line x1="204.75" y1="356.90" x2="204.75" y2="359.40" stroke="#222" stroke-width="0.8"/>
<text x="204.75" y="367.56" font-size="6.0" text-anchor="middle" fill="#333" stroke="#333" stroke-width="0.18">60</text>
<line x1="235.95" y1="356.90" x2="235.95" y2="359.40" stroke="#222" stroke-width="0.8"/>
<text x="235.95" y="367.56" font-size="6.0" text-anchor="middle" fill="#333" stroke="#333" stroke-width="0.18">72</text>
<text x="142.30" y="378.85" font-size="7.4" text-anchor="middle" fill="#222" font-weight="bold" textLength="18" lengthAdjust="spacingAndGlyphs">Months</text>
<text transform="translate(12.9,307) rotate(-90)" font-size="7.6" text-anchor="middle" fill="#2a2a2a" stroke="#2a2a2a" stroke-width="0.25" textLength="52" lengthAdjust="spacingAndGlyphs">Cumulative incidence</text>
<text x="25.00" y="389.03" font-size="5.9" text-anchor="start" fill="#333" stroke="#333" stroke-width="0.08">Number at Risk</text>
<line x1="25.00" y1="396.30" x2="32.50" y2="396.30" stroke="#b81c3a" stroke-width="1.0"/>
<text x="48.75" y="398.87" font-size="6.3" text-anchor="middle" fill="#d0404f" stroke="#d0404f" stroke-width="0.05">225</text>
<text x="79.95" y="398.87" font-size="6.3" text-anchor="middle" fill="#d0404f" stroke="#d0404f" stroke-width="0.05">120</text>
<text x="111.15" y="398.87" font-size="6.3" text-anchor="middle" fill="#d0404f" stroke="#d0404f" stroke-width="0.05">86</text>
<text x="142.35" y="398.87" font-size="6.3" text-anchor="middle" fill="#d0404f" stroke="#d0404f" stroke-width="0.05">75</text>
<text x="173.55" y="398.87" font-size="6.3" text-anchor="middle" fill="#d0404f" stroke="#d0404f" stroke-width="0.05">69</text>
<text x="204.75" y="398.87" font-size="6.3" text-anchor="middle" fill="#d0404f" stroke="#d0404f" stroke-width="0.05">55</text>
<text x="235.95" y="398.87" font-size="6.3" text-anchor="middle" fill="#d0404f" stroke="#d0404f" stroke-width="0.05">47</text>
<line x1="25.00" y1="406.20" x2="32.50" y2="406.20" stroke="#173f6b" stroke-width="1.0"/>
<text x="48.75" y="408.77" font-size="6.3" text-anchor="middle" fill="#3f72a6" stroke="#3f72a6" stroke-width="0.05">198</text>
<text x="79.95" y="408.77" font-size="6.3" text-anchor="middle" fill="#3f72a6" stroke="#3f72a6" stroke-width="0.05">135</text>
<text x="111.15" y="408.77" font-size="6.3" text-anchor="middle" fill="#3f72a6" stroke="#3f72a6" stroke-width="0.05">96</text>
<text x="142.35" y="408.77" font-size="6.3" text-anchor="middle" fill="#3f72a6" stroke="#3f72a6" stroke-width="0.05">65</text>
<text x="173.55" y="408.77" font-size="6.3" text-anchor="middle" fill="#3f72a6" stroke="#3f72a6" stroke-width="0.05">39</text>
<text x="204.75" y="408.77" font-size="6.3" text-anchor="middle" fill="#3f72a6" stroke="#3f72a6" stroke-width="0.05">23</text>
<text x="235.95" y="408.77" font-size="6.3" text-anchor="middle" fill="#3f72a6" stroke="#3f72a6" stroke-width="0.05">9</text>
<text x="25.00" y="417.83" font-size="5.9" text-anchor="start" fill="#333" stroke="#333" stroke-width="0.08">Events</text>
<line x1="25.00" y1="425.10" x2="32.50" y2="425.10" stroke="#b81c3a" stroke-width="1.0"/>
<text x="48.75" y="427.67" font-size="6.3" text-anchor="middle" fill="#d0404f" stroke="#d0404f" stroke-width="0.05">0</text>
<text x="79.95" y="427.67" font-size="6.3" text-anchor="middle" fill="#d0404f" stroke="#d0404f" stroke-width="0.05">81</text>
<text x="111.15" y="427.67" font-size="6.3" text-anchor="middle" fill="#d0404f" stroke="#d0404f" stroke-width="0.05">107</text>
<text x="142.35" y="427.67" font-size="6.3" text-anchor="middle" fill="#d0404f" stroke="#d0404f" stroke-width="0.05">113</text>
<text x="173.55" y="427.67" font-size="6.3" text-anchor="middle" fill="#d0404f" stroke="#d0404f" stroke-width="0.05">115</text>
<text x="204.75" y="427.67" font-size="6.3" text-anchor="middle" fill="#d0404f" stroke="#d0404f" stroke-width="0.05">115</text>
<text x="235.95" y="427.67" font-size="6.3" text-anchor="middle" fill="#d0404f" stroke="#d0404f" stroke-width="0.05">115</text>
<line x1="25.00" y1="435.00" x2="32.50" y2="435.00" stroke="#173f6b" stroke-width="1.0"/>
<text x="48.75" y="437.57" font-size="6.3" text-anchor="middle" fill="#3f72a6" stroke="#3f72a6" stroke-width="0.05">1</text>
<text x="79.95" y="437.57" font-size="6.3" text-anchor="middle" fill="#3f72a6" stroke="#3f72a6" stroke-width="0.05">40</text>
<text x="111.15" y="437.57" font-size="6.3" text-anchor="middle" fill="#3f72a6" stroke="#3f72a6" stroke-width="0.05">55</text>
<text x="142.35" y="437.57" font-size="6.3" text-anchor="middle" fill="#3f72a6" stroke="#3f72a6" stroke-width="0.05">58</text>
<text x="173.55" y="437.57" font-size="6.3" text-anchor="middle" fill="#3f72a6" stroke="#3f72a6" stroke-width="0.05">62</text>
<text x="204.75" y="437.57" font-size="6.3" text-anchor="middle" fill="#3f72a6" stroke="#3f72a6" stroke-width="0.05">62</text>
<text x="235.95" y="437.57" font-size="6.3" text-anchor="middle" fill="#3f72a6" stroke="#3f72a6" stroke-width="0.05">63</text>
<text x="263.80" y="225.09" font-size="11.6" text-anchor="start" fill="#111" font-weight="bold">D</text>
<text x="298.00" y="233.90" font-size="6.1" text-anchor="start" fill="#222" stroke="#222" stroke-width="0.18">Non-relapse mortality</text>
<rect x="298.00" y="237.50" width="7.00" height="6.60" fill="#f6c3cc"/>
<line x1="298.00" y1="240.80" x2="305.00" y2="240.80" stroke="#b81c3a" stroke-width="1.0"/>
<line x1="301.50" y1="239.60" x2="301.50" y2="242.00" stroke="#b81c3a" stroke-width="0.7"/>
<text x="307.50" y="242.97" font-size="6.3" text-anchor="start" fill="#222" stroke="#222" stroke-width="0.18">2010-2016</text>
<rect x="298.00" y="247.20" width="7.00" height="6.60" fill="#c3d9ee"/>
<line x1="298.00" y1="250.50" x2="305.00" y2="250.50" stroke="#173f6b" stroke-width="1.0"/>
<line x1="301.50" y1="249.30" x2="301.50" y2="251.70" stroke="#173f6b" stroke-width="0.7"/>
<text x="307.50" y="252.67" font-size="6.3" text-anchor="start" fill="#222" stroke="#222" stroke-width="0.18">2017-2022</text>
<rect x="440.00" y="234.50" width="14.50" height="9.30" fill="#cbcbcb"/>
<text x="447.25" y="241.18" font-size="5.9" text-anchor="middle" fill="#222" stroke="#222" stroke-width="0.18">HR</text>
<rect x="455.70" y="234.50" width="28.80" height="9.30" fill="#cbcbcb"/>
<text x="470.10" y="241.18" font-size="5.9" text-anchor="middle" fill="#222" stroke="#222" stroke-width="0.18">95% CI</text>
<rect x="486.20" y="234.50" width="18.80" height="9.30" fill="#cbcbcb"/>
<text x="495.60" y="241.18" font-size="5.9" text-anchor="middle" fill="#222" stroke="#222" stroke-width="0.18" font-style="italic">P</text>
<text x="447.25" y="252.50" font-size="5.8" text-anchor="middle" fill="#333" stroke="#333" stroke-width="0.18">0.95</text>
<text x="470.10" y="252.50" font-size="5.8" text-anchor="middle" fill="#333" stroke="#333" stroke-width="0.18">0.57-1.6</text>
<text x="495.60" y="252.50" font-size="5.8" text-anchor="middle" fill="#333" stroke="#333" stroke-width="0.18">.86</text>
<polygon points="306.25,351.25 309.91,348.73 315.40,347.61 322.99,346.12 330.83,343.80 343.12,341.58 361.43,340.80 379.99,339.78 400.13,338.22 441.18,336.40 441.45,334.15 466.03,334.15 466.29,330.50 478.84,330.50 479.10,324.27 494.01,324.27 494.01,337.97 479.10,337.97 478.84,338.10 466.29,338.10 466.03,341.95 441.45,341.95 441.18,344.40 400.13,346.22 379.99,347.38 361.43,347.80 343.12,347.58 330.83,348.80 322.99,350.12 315.40,350.81 309.91,351.13 306.25,352.25" fill="#4f8fcf" opacity="0.3"/>
<polygon points="306.25,351.25 309.91,348.28 315.40,347.34 322.99,345.66 330.83,343.26 338.41,340.76 346.26,339.62 361.43,339.05 379.99,338.23 400.13,337.58 439.88,336.60 457.92,336.35 468.38,335.89 489.30,335.44 489.56,333.86 494.53,333.86 494.53,341.86 489.56,341.86 489.30,342.64 468.38,343.09 457.92,343.55 439.88,344.20 400.13,345.58 379.99,345.83 361.43,346.65 346.26,346.62 338.41,346.76 330.83,348.26 322.99,349.66 315.40,350.54 309.91,350.68 306.25,352.25" fill="#e0506a" opacity="0.3"/>
<polyline points="306.25,351.75 309.91,349.48 315.40,348.94 322.99,347.66 330.83,345.76 338.41,343.76 346.26,343.12 361.43,342.85 379.99,342.03 400.13,341.58 439.88,340.40 457.92,339.95 468.38,339.49 489.30,339.04 489.56,337.86 494.53,337.86" fill="none" stroke="#d01a3c" stroke-width="1.1" stroke-linejoin="round"/>
<line x1="348.09" y1="341.79" x2="348.09" y2="344.39" stroke="#d01a3c" stroke-width="0.7"/>
<line x1="358.55" y1="341.60" x2="358.55" y2="344.20" stroke="#d01a3c" stroke-width="0.7"/>
<line x1="369.01" y1="341.22" x2="369.01" y2="343.82" stroke="#d01a3c" stroke-width="0.7"/>
<line x1="379.47" y1="340.76" x2="379.47" y2="343.36" stroke="#d01a3c" stroke-width="0.7"/>
<line x1="389.93" y1="340.51" x2="389.93" y2="343.11" stroke="#d01a3c" stroke-width="0.7"/>
<line x1="400.39" y1="340.27" x2="400.39" y2="342.87" stroke="#d01a3c" stroke-width="0.7"/>
<line x1="410.85" y1="339.96" x2="410.85" y2="342.56" stroke="#d01a3c" stroke-width="0.7"/>
<line x1="421.31" y1="339.65" x2="421.31" y2="342.25" stroke="#d01a3c" stroke-width="0.7"/>
<line x1="431.77" y1="339.34" x2="431.77" y2="341.94" stroke="#d01a3c" stroke-width="0.7"/>
<line x1="442.23" y1="339.04" x2="442.23" y2="341.64" stroke="#d01a3c" stroke-width="0.7"/>
<line x1="452.69" y1="338.78" x2="452.69" y2="341.38" stroke="#d01a3c" stroke-width="0.7"/>
<line x1="463.15" y1="338.42" x2="463.15" y2="341.02" stroke="#d01a3c" stroke-width="0.7"/>
<line x1="484.07" y1="337.85" x2="484.07" y2="340.45" stroke="#d01a3c" stroke-width="0.7"/>
<line x1="494.53" y1="336.56" x2="494.53" y2="339.16" stroke="#d01a3c" stroke-width="0.7"/>
<polyline points="306.25,351.75 309.91,349.93 315.40,349.21 322.99,348.12 330.83,346.30 343.12,344.58 361.43,344.30 379.99,343.58 400.13,342.22 441.18,340.40 441.45,339.95 466.03,339.95 466.29,336.50 478.84,336.50 479.10,333.77 494.01,333.77" fill="none" stroke="#173f6b" stroke-width="1.1" stroke-linejoin="round"/>
<line x1="342.86" y1="343.31" x2="342.86" y2="345.91" stroke="#173f6b" stroke-width="0.7"/>
<line x1="353.32" y1="343.13" x2="353.32" y2="345.73" stroke="#173f6b" stroke-width="0.7"/>
<line x1="363.78" y1="342.91" x2="363.78" y2="345.51" stroke="#173f6b" stroke-width="0.7"/>
<line x1="374.24" y1="342.50" x2="374.24" y2="345.10" stroke="#173f6b" stroke-width="0.7"/>
<line x1="384.70" y1="341.96" x2="384.70" y2="344.56" stroke="#173f6b" stroke-width="0.7"/>
<line x1="395.16" y1="341.25" x2="395.16" y2="343.85" stroke="#173f6b" stroke-width="0.7"/>
<line x1="405.62" y1="340.67" x2="405.62" y2="343.27" stroke="#173f6b" stroke-width="0.7"/>
<line x1="416.08" y1="340.21" x2="416.08" y2="342.81" stroke="#173f6b" stroke-width="0.7"/>
<line x1="426.54" y1="339.75" x2="426.54" y2="342.35" stroke="#173f6b" stroke-width="0.7"/>
<line x1="437.00" y1="339.29" x2="437.00" y2="341.89" stroke="#173f6b" stroke-width="0.7"/>
<line x1="447.46" y1="338.65" x2="447.46" y2="341.25" stroke="#173f6b" stroke-width="0.7"/>
<line x1="457.92" y1="338.65" x2="457.92" y2="341.25" stroke="#173f6b" stroke-width="0.7"/>
<line x1="468.38" y1="335.20" x2="468.38" y2="337.80" stroke="#173f6b" stroke-width="0.7"/>
<line x1="494.53" y1="332.47" x2="494.53" y2="335.07" stroke="#173f6b" stroke-width="0.7"/>
<line x1="297.80" y1="258.70" x2="297.80" y2="357.10" stroke="#3a3a3a" stroke-width="1.25"/>
<line x1="297.20" y1="356.50" x2="503.80" y2="356.50" stroke="#3a3a3a" stroke-width="1.25"/>
<line x1="295.30" y1="261.20" x2="297.80" y2="261.20" stroke="#222" stroke-width="0.8"/>
<text x="292.40" y="263.26" font-size="6.0" text-anchor="end" fill="#333" stroke="#333" stroke-width="0.18">100%</text>
<line x1="295.30" y1="283.80" x2="297.80" y2="283.80" stroke="#222" stroke-width="0.8"/>
<text x="292.40" y="285.86" font-size="6.0" text-anchor="end" fill="#333" stroke="#333" stroke-width="0.18">75%</text>
<line x1="295.30" y1="306.50" x2="297.80" y2="306.50" stroke="#222" stroke-width="0.8"/>
<text x="292.40" y="308.56" font-size="6.0" text-anchor="end" fill="#333" stroke="#333" stroke-width="0.18">50%</text>
<line x1="295.30" y1="329.20" x2="297.80" y2="329.20" stroke="#222" stroke-width="0.8"/>
<text x="292.40" y="331.26" font-size="6.0" text-anchor="end" fill="#333" stroke="#333" stroke-width="0.18">25%</text>
<line x1="295.30" y1="351.75" x2="297.80" y2="351.75" stroke="#222" stroke-width="0.8"/>
<text x="292.40" y="353.81" font-size="6.0" text-anchor="end" fill="#333" stroke="#333" stroke-width="0.18">0%</text>
<line x1="306.25" y1="356.50" x2="306.25" y2="359.00" stroke="#222" stroke-width="0.8"/>
<text x="306.25" y="367.56" font-size="6.0" text-anchor="middle" fill="#333" stroke="#333" stroke-width="0.18">0</text>
<line x1="337.63" y1="356.50" x2="337.63" y2="359.00" stroke="#222" stroke-width="0.8"/>
<text x="337.63" y="367.56" font-size="6.0" text-anchor="middle" fill="#333" stroke="#333" stroke-width="0.18">12</text>
<line x1="369.01" y1="356.50" x2="369.01" y2="359.00" stroke="#222" stroke-width="0.8"/>
<text x="369.01" y="367.56" font-size="6.0" text-anchor="middle" fill="#333" stroke="#333" stroke-width="0.18">24</text>
<line x1="400.39" y1="356.50" x2="400.39" y2="359.00" stroke="#222" stroke-width="0.8"/>
<text x="400.39" y="367.56" font-size="6.0" text-anchor="middle" fill="#333" stroke="#333" stroke-width="0.18">36</text>
<line x1="431.77" y1="356.50" x2="431.77" y2="359.00" stroke="#222" stroke-width="0.8"/>
<text x="431.77" y="367.56" font-size="6.0" text-anchor="middle" fill="#333" stroke="#333" stroke-width="0.18">48</text>
<line x1="463.15" y1="356.50" x2="463.15" y2="359.00" stroke="#222" stroke-width="0.8"/>
<text x="463.15" y="367.56" font-size="6.0" text-anchor="middle" fill="#333" stroke="#333" stroke-width="0.18">60</text>
<line x1="494.53" y1="356.50" x2="494.53" y2="359.00" stroke="#222" stroke-width="0.8"/>
<text x="494.53" y="367.56" font-size="6.0" text-anchor="middle" fill="#333" stroke="#333" stroke-width="0.18">72</text>
<text x="401.00" y="378.85" font-size="7.4" text-anchor="middle" fill="#222" font-weight="bold" textLength="18" lengthAdjust="spacingAndGlyphs">Months</text>
<text transform="translate(271.3,304.5) rotate(-90)" font-size="7.6" text-anchor="middle" fill="#2a2a2a" stroke="#2a2a2a" stroke-width="0.25" textLength="52" lengthAdjust="spacingAndGlyphs">Cumulative incidence</text>
<text x="282.60" y="388.23" font-size="5.9" text-anchor="start" fill="#333" stroke="#333" stroke-width="0.08">Number at Risk</text>
<line x1="282.60" y1="396.20" x2="290.20" y2="396.20" stroke="#b81c3a" stroke-width="1.0"/>
<text x="306.25" y="398.77" font-size="6.3" text-anchor="middle" fill="#d0404f" stroke="#d0404f" stroke-width="0.05">225</text>
<text x="337.63" y="398.77" font-size="6.3" text-anchor="middle" fill="#d0404f" stroke="#d0404f" stroke-width="0.05">120</text>
<text x="369.01" y="398.77" font-size="6.3" text-anchor="middle" fill="#d0404f" stroke="#d0404f" stroke-width="0.05">86</text>
<text x="400.39" y="398.77" font-size="6.3" text-anchor="middle" fill="#d0404f" stroke="#d0404f" stroke-width="0.05">75</text>
<text x="431.77" y="398.77" font-size="6.3" text-anchor="middle" fill="#d0404f" stroke="#d0404f" stroke-width="0.05">69</text>
<text x="463.15" y="398.77" font-size="6.3" text-anchor="middle" fill="#d0404f" stroke="#d0404f" stroke-width="0.05">55</text>
<text x="494.53" y="398.77" font-size="6.3" text-anchor="middle" fill="#d0404f" stroke="#d0404f" stroke-width="0.05">47</text>
<line x1="282.60" y1="406.00" x2="290.20" y2="406.00" stroke="#173f6b" stroke-width="1.0"/>
<text x="306.25" y="408.57" font-size="6.3" text-anchor="middle" fill="#3f72a6" stroke="#3f72a6" stroke-width="0.05">198</text>
<text x="337.63" y="408.57" font-size="6.3" text-anchor="middle" fill="#3f72a6" stroke="#3f72a6" stroke-width="0.05">135</text>
<text x="369.01" y="408.57" font-size="6.3" text-anchor="middle" fill="#3f72a6" stroke="#3f72a6" stroke-width="0.05">96</text>
<text x="400.39" y="408.57" font-size="6.3" text-anchor="middle" fill="#3f72a6" stroke="#3f72a6" stroke-width="0.05">65</text>
<text x="431.77" y="408.57" font-size="6.3" text-anchor="middle" fill="#3f72a6" stroke="#3f72a6" stroke-width="0.05">39</text>
<text x="463.15" y="408.57" font-size="6.3" text-anchor="middle" fill="#3f72a6" stroke="#3f72a6" stroke-width="0.05">23</text>
<text x="494.53" y="408.57" font-size="6.3" text-anchor="middle" fill="#3f72a6" stroke="#3f72a6" stroke-width="0.05">9</text>
<text x="282.60" y="417.23" font-size="5.9" text-anchor="start" fill="#333" stroke="#333" stroke-width="0.08">Events</text>
<line x1="282.60" y1="425.00" x2="290.20" y2="425.00" stroke="#b81c3a" stroke-width="1.0"/>
<text x="306.25" y="427.57" font-size="6.3" text-anchor="middle" fill="#d0404f" stroke="#d0404f" stroke-width="0.05">0</text>
<text x="337.63" y="427.57" font-size="6.3" text-anchor="middle" fill="#d0404f" stroke="#d0404f" stroke-width="0.05">19</text>
<text x="369.01" y="427.57" font-size="6.3" text-anchor="middle" fill="#d0404f" stroke="#d0404f" stroke-width="0.05">25</text>
<text x="400.39" y="427.57" font-size="6.3" text-anchor="middle" fill="#d0404f" stroke="#d0404f" stroke-width="0.05">26</text>
<text x="431.77" y="427.57" font-size="6.3" text-anchor="middle" fill="#d0404f" stroke="#d0404f" stroke-width="0.05">28</text>
<text x="463.15" y="427.57" font-size="6.3" text-anchor="middle" fill="#d0404f" stroke="#d0404f" stroke-width="0.05">30</text>
<text x="494.53" y="427.57" font-size="6.3" text-anchor="middle" fill="#d0404f" stroke="#d0404f" stroke-width="0.05">32</text>
<line x1="282.60" y1="435.00" x2="290.20" y2="435.00" stroke="#173f6b" stroke-width="1.0"/>
<text x="306.25" y="437.57" font-size="6.3" text-anchor="middle" fill="#3f72a6" stroke="#3f72a6" stroke-width="0.05">0</text>
<text x="337.63" y="437.57" font-size="6.3" text-anchor="middle" fill="#3f72a6" stroke="#3f72a6" stroke-width="0.05">14</text>
<text x="369.01" y="437.57" font-size="6.3" text-anchor="middle" fill="#3f72a6" stroke="#3f72a6" stroke-width="0.05">18</text>
<text x="400.39" y="437.57" font-size="6.3" text-anchor="middle" fill="#3f72a6" stroke="#3f72a6" stroke-width="0.05">22</text>
<text x="431.77" y="437.57" font-size="6.3" text-anchor="middle" fill="#3f72a6" stroke="#3f72a6" stroke-width="0.05">22</text>
<text x="463.15" y="437.57" font-size="6.3" text-anchor="middle" fill="#3f72a6" stroke="#3f72a6" stroke-width="0.05">23</text>
<text x="494.53" y="437.57" font-size="6.3" text-anchor="middle" fill="#3f72a6" stroke="#3f72a6" stroke-width="0.05">25</text>
<text x="163.90" y="456.19" font-size="11.6" text-anchor="start" fill="#111" font-weight="bold">E</text>
<path d="M202.00,461.50 C246.15,461.50 246.15,461.50 290.30,461.50 L290.30,493.88 C246.15,493.88 246.15,493.88 202.00,493.88 Z" fill="#a6cdbd" opacity="1.0"/>
<path d="M202.00,493.88 C246.15,493.88 246.15,506.20 290.30,506.20 L290.30,517.84 C246.15,517.84 246.15,505.52 202.00,505.52 Z" fill="#a6cdbd" opacity="1.0"/>
<path d="M202.00,517.71 C246.15,517.71 246.15,517.84 290.30,517.84 L290.30,556.80 C246.15,556.80 246.15,556.67 202.00,556.67 Z" fill="#b4c8de" opacity="1.0"/>
<path d="M202.00,568.80 C246.15,568.80 246.15,556.80 290.30,556.80 L290.30,586.15 C246.15,586.15 246.15,598.15 202.00,598.15 Z" fill="#eeaab6" opacity="1.0"/>
<path d="M202.00,598.15 C246.15,598.15 246.15,598.40 290.30,598.40 L290.30,631.80 C246.15,631.80 246.15,631.54 202.00,631.54 Z" fill="#eeaab6" opacity="1.0"/>
<path d="M202.00,517.20 C246.15,517.20 246.15,493.88 290.30,493.88 L290.30,494.39 C246.15,494.39 246.15,517.71 202.00,517.71 Z" fill="#f4f4f4" opacity="1.0"/>
<rect x="191.20" y="461.50" width="10.80" height="44.02" fill="#1d6a4a"/>
<rect x="191.20" y="517.20" width="10.80" height="39.47" fill="#17467f"/>
<rect x="191.20" y="568.80" width="10.80" height="62.74" fill="#c4142f"/>
<rect x="290.30" y="461.50" width="10.20" height="32.89" fill="#1d6a4a"/>
<rect x="290.30" y="506.20" width="10.20" height="79.95" fill="#17467f"/>
<rect x="290.30" y="598.40" width="10.20" height="33.40" fill="#c4142f"/>
<text x="216.00" y="480.06" font-size="5.7" text-anchor="start" fill="#333" stroke="#333" stroke-width="0.12" textLength="37.4" lengthAdjust="spacingAndGlyphs">n = 64/22.1%</text>
<text x="216.00" y="501.76" font-size="5.7" text-anchor="start" fill="#333" stroke="#333" stroke-width="0.12" textLength="28.8" lengthAdjust="spacingAndGlyphs">n = 23/8%</text>
<text x="216.00" y="520.16" font-size="5.7" text-anchor="start" fill="#333" stroke="#333" stroke-width="0.12" textLength="29.6" lengthAdjust="spacingAndGlyphs">n = 1/0.3%</text>
<text x="216.00" y="540.46" font-size="5.7" text-anchor="start" fill="#333" stroke="#333" stroke-width="0.12" textLength="37.4" lengthAdjust="spacingAndGlyphs">n = 77/26.6%</text>
<text x="216.00" y="585.96" font-size="5.7" text-anchor="start" fill="#333" stroke="#333" stroke-width="0.12" textLength="37.4" lengthAdjust="spacingAndGlyphs">n = 58/20.1%</text>
<text x="216.00" y="616.96" font-size="5.7" text-anchor="start" fill="#333" stroke="#333" stroke-width="0.12" textLength="37.4" lengthAdjust="spacingAndGlyphs">n = 66/22.8%</text>
<rect x="180.40" y="472.10" width="32.80" height="23.20" rx="1.6" fill="#fff" stroke="#6a6a6a" stroke-width="0.7"/>
<text x="196.80" y="479.21" font-size="6.0" text-anchor="middle" fill="#333" stroke="#333" stroke-width="0.08">Favorable</text>
<text x="196.80" y="486.06" font-size="6.0" text-anchor="middle" fill="#333" stroke="#333" stroke-width="0.08">n = 87</text>
<text x="196.80" y="492.91" font-size="6.0" text-anchor="middle" fill="#333" stroke="#333" stroke-width="0.08">(30%)</text>
<rect x="178.50" y="524.90" width="35.60" height="24.30" rx="1.6" fill="#fff" stroke="#6a6a6a" stroke-width="0.7"/>
<text x="196.30" y="532.56" font-size="6.0" text-anchor="middle" fill="#333" stroke="#333" stroke-width="0.08">Intermediate</text>
<text x="196.30" y="539.41" font-size="6.0" text-anchor="middle" fill="#333" stroke="#333" stroke-width="0.08">n = 78</text>
<text x="196.30" y="546.26" font-size="6.0" text-anchor="middle" fill="#333" stroke="#333" stroke-width="0.08">(27%)</text>
<rect x="185.30" y="589.00" width="23.60" height="22.60" rx="1.6" fill="#fff" stroke="#6a6a6a" stroke-width="0.7"/>
<text x="197.10" y="595.81" font-size="6.0" text-anchor="middle" fill="#333" stroke="#333" stroke-width="0.08">Adverse</text>
<text x="197.10" y="602.66" font-size="6.0" text-anchor="middle" fill="#333" stroke="#333" stroke-width="0.08">n = 124</text>
<text x="197.10" y="609.51" font-size="6.0" text-anchor="middle" fill="#333" stroke="#333" stroke-width="0.08">(43%)</text>
<rect x="279.60" y="466.30" width="32.10" height="22.70" rx="1.6" fill="#fff" stroke="#6a6a6a" stroke-width="0.7"/>
<text x="295.65" y="473.16" font-size="6.0" text-anchor="middle" fill="#333" stroke="#333" stroke-width="0.08">Favorable</text>
<text x="295.65" y="480.01" font-size="6.0" text-anchor="middle" fill="#333" stroke="#333" stroke-width="0.08">n = 65</text>
<text x="295.65" y="486.86" font-size="6.0" text-anchor="middle" fill="#333" stroke="#333" stroke-width="0.08">(22%)</text>
<rect x="278.00" y="534.70" width="34.90" height="22.50" rx="1.6" fill="#fff" stroke="#6a6a6a" stroke-width="0.7"/>
<text x="295.45" y="541.46" font-size="6.0" text-anchor="middle" fill="#333" stroke="#333" stroke-width="0.08">Intermediate</text>
<text x="295.45" y="548.31" font-size="6.0" text-anchor="middle" fill="#333" stroke="#333" stroke-width="0.08">n = 158</text>
<text x="295.45" y="555.16" font-size="6.0" text-anchor="middle" fill="#333" stroke="#333" stroke-width="0.08">(55%)</text>
<rect x="283.60" y="602.80" width="23.50" height="23.10" rx="1.6" fill="#fff" stroke="#6a6a6a" stroke-width="0.7"/>
<text x="295.35" y="609.86" font-size="6.0" text-anchor="middle" fill="#333" stroke="#333" stroke-width="0.08">Adverse</text>
<text x="295.35" y="616.71" font-size="6.0" text-anchor="middle" fill="#333" stroke="#333" stroke-width="0.08">n = 66</text>
<text x="295.35" y="623.56" font-size="6.0" text-anchor="middle" fill="#333" stroke="#333" stroke-width="0.08">(23%)</text>
<text x="179.80" y="649.03" font-size="6.2" text-anchor="start" fill="#333" stroke="#333" stroke-width="0.05">ELN 2017</text>
<defs><linearGradient id="ag" x1="0" x2="0" y1="0" y2="1"><stop offset="0" stop-color="#e8e8e8"/><stop offset="0.5" stop-color="#cbcbcb"/><stop offset="1" stop-color="#d6d6d6"/></linearGradient></defs>
<path d="M217.7,643.1 H256.7 V639.6 L265.4,647.3 L256.7,655 V651.2 H217.7 Z" fill="url(#ag)"/>
<text x="241.20" y="648.90" font-size="5.8" text-anchor="middle" fill="#333" stroke="#333" stroke-width="0.05">reclassification</text>
<text x="276.9" y="648.8" font-size="6.2" fill="#333" stroke="#333" stroke-width="0.05">ELN 2010 R<tspan font-size="4" dy="1.3">m</tspan></text>
<rect x="0" y="0" width="520" height="1" fill="#686868"/><rect x="0" y="0" width="1" height="662" fill="#5a5a5a"/><rect x="519" y="0" width="1" height="662" fill="#555"/><rect x="518" y="1" width="1" height="660" fill="#dcdcdc"/><rect x="0" y="661" width="520" height="1" fill="#3c3c3c"/><rect x="1" y="660" width="517" height="1" fill="#d8d8d8"/>
</svg></body></html>
